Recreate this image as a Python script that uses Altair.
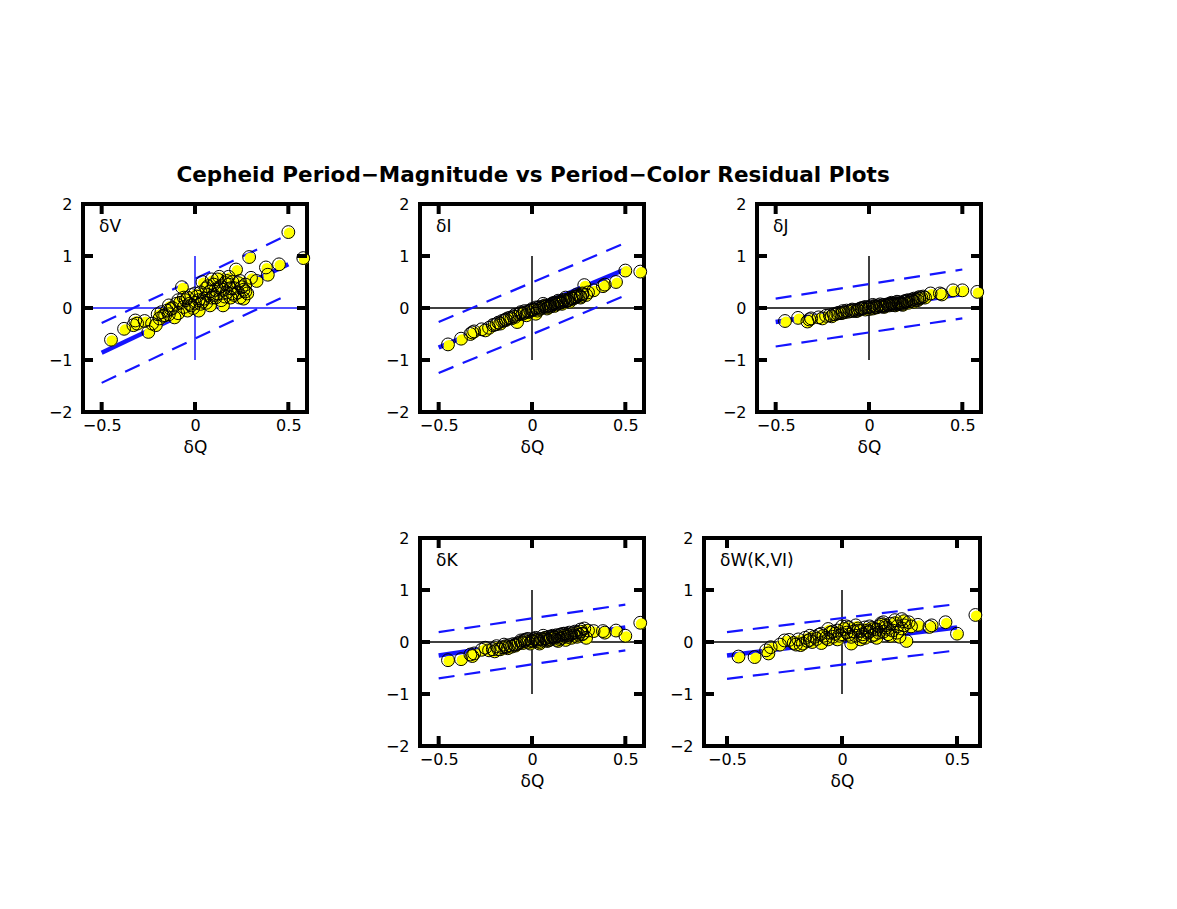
import altair as alt
import pandas as pd

# ---------------- data ----------------
dQ = [-0.45, -0.38, -0.33, -0.32, -0.31, -0.25, -0.23, -0.21, -0.19, -0.18,
      -0.17, -0.16, -0.15, -0.14, -0.13, -0.12, -0.11, -0.10, -0.09, -0.08,
      -0.07, -0.06, -0.05, -0.04, -0.03, -0.02, -0.01, 0.00, 0.01, 0.02,
      0.03, 0.04, 0.05, 0.06, 0.07, 0.08, 0.09, 0.10, 0.11, 0.12,
      0.13, 0.14, 0.15, 0.16, 0.17, 0.18, 0.19, 0.20, 0.21, 0.22,
      0.23, 0.24, 0.25, 0.26, 0.27, 0.28, 0.29, 0.30, 0.33, 0.38,
      0.39, 0.45, 0.50, 0.58, -0.20, -0.06, 0.04, 0.08, 0.12, 0.15,
      0.18, 0.20, 0.24, 0.26, 0.10, -0.02, 0.06, 0.14, 0.02,
      -0.14, -0.09, -0.04, 0.00, 0.03, 0.07, 0.09, 0.11, 0.13, 0.16,
      0.17, 0.19, 0.21, 0.23, 0.27, -0.27]

dV = [-0.61, -0.40, -0.33, -0.24, -0.30, -0.46, -0.30, -0.33, -0.20, -0.08,
      -0.15, -0.14, -0.05, 0.05, -0.02, 0.00, -0.18, 0.08, -0.10, 0.10,
      0.40, 0.02, 0.15, -0.05, 0.08, 0.25, 0.00, 0.10, 0.22, -0.05,
      0.30, 0.50, 0.18, 0.10, 0.25, 0.32, 0.20, 0.45, 0.35, 0.55,
      0.40, 0.15, 0.05, 0.48, 0.30, 0.45, 0.20, 0.50, 0.38, 0.74,
      0.30, 0.20, 0.40, 0.35, 0.32, 0.28, 0.98, 0.58, 0.52, 0.78,
      0.64, 0.84, 1.46, 0.96, -0.12, 0.20, 0.12, 0.05, 0.28, 0.35,
      0.60, 0.28, 0.52, 0.18, 0.25, 0.05, 0.38, 0.42, 0.15,
      -0.12, 0.15, 0.20, 0.28, 0.08, 0.42, 0.55, 0.20, 0.60, 0.22,
      0.52, 0.38, 0.25, 0.48, 0.45, -0.25]

dI = [-0.70, -0.59, -0.50, -0.47, -0.45, -0.43, -0.38, -0.33, -0.31, -0.28,
      -0.30, -0.25, -0.24, -0.22, -0.20, -0.19, -0.20, -0.16, -0.17, -0.27,
      -0.12, -0.10, -0.11, -0.09, -0.14, -0.06, -0.05, -0.04, -0.03, -0.11,
      0.00, 0.02, 0.00, 0.03, 0.02, -0.01, 0.05, 0.06, 0.08, 0.10,
      0.07, 0.09, 0.12, 0.08, 0.14, 0.13, 0.15, 0.16, 0.18, 0.18,
      0.20, 0.22, 0.24, 0.22, 0.28, 0.44, 0.25, 0.30, 0.34, 0.42,
      0.45, 0.50, 0.72, 0.70, -0.32, -0.08, -0.02, 0.04, 0.04, 0.10,
      0.20, 0.12, 0.26, 0.20, 0.03, -0.08, 0.08, 0.14, 0.01,
      -0.23, -0.13, -0.06, -0.02, -0.05, 0.05, 0.02, 0.09, 0.11, 0.11,
      0.16, 0.14, 0.20, 0.22, 0.26, -0.41]

dJ = [-0.25, -0.19, -0.26, -0.22, -0.20, -0.20, -0.15, -0.14, -0.12, -0.12,
      -0.10, -0.09, -0.10, -0.06, -0.08, -0.05, -0.07, -0.05, -0.03, -0.04,
      -0.06, -0.03, -0.02, 0.00, 0.00, 0.02, 0.01, -0.02, 0.03, -0.01,
      0.04, 0.02, 0.05, 0.03, 0.05, 0.06, 0.04, 0.07, 0.05, 0.08,
      0.06, 0.09, 0.07, 0.08, 0.10, 0.06, 0.11, 0.12, 0.10, 0.13,
      0.14, 0.18, 0.16, 0.19, 0.18, 0.20, 0.22, 0.20, 0.28, 0.28,
      0.26, 0.34, 0.34, 0.31, -0.16, -0.05, 0.01, 0.02, 0.10, 0.12,
      0.08, 0.14, 0.12, 0.15, 0.06, -0.03, 0.07, 0.05, 0.06,
      -0.09, -0.06, -0.01, 0.01, 0.02, 0.03, 0.05, 0.08, 0.09, 0.11,
      0.08, 0.13, 0.15, 0.16, 0.21, -0.18]

dK = [-0.35, -0.33, -0.24, -0.27, -0.22, -0.11, -0.16, -0.14, -0.08, -0.14,
      -0.14, -0.10, -0.05, -0.08, -0.12, -0.06, -0.09, -0.04, -0.07, -0.04,
      -0.02, 0.00, -0.02, 0.02, 0.05, 0.00, -0.03, 0.03, 0.06, 0.08,
      0.02, -0.03, 0.06, 0.04, 0.08, 0.05, 0.10, 0.06, 0.12, 0.08,
      0.04, 0.11, 0.14, 0.15, 0.12, 0.16, 0.10, 0.13, 0.08, 0.17,
      0.12, 0.18, 0.14, 0.20, 0.16, 0.26, 0.08, 0.22, 0.21, 0.21,
      0.18, 0.22, 0.12, 0.37, -0.18, 0.03, 0.00, 0.02, 0.10, 0.06,
      0.04, 0.18, 0.10, 0.24, 0.09, 0.06, 0.12, 0.02, 0.04,
      -0.10, -0.05, 0.04, 0.01, 0.05, 0.07, 0.03, 0.10, 0.13, 0.08,
      0.16, 0.14, 0.15, 0.20, 0.15, -0.15]

dW = [-0.28, -0.29, -0.16, -0.22, -0.10, 0.03, 0.04, -0.02, 0.05, -0.06,
      -0.03, 0.08, 0.02, 0.12, 0.00, 0.10, 0.06, 0.14, -0.02, 0.12,
      0.08, 0.05, 0.18, 0.10, 0.16, 0.22, 0.12, 0.15, 0.25, 0.18,
      0.28, -0.03, 0.20, 0.12, 0.22, 0.21, 0.15, 0.28, 0.18, 0.30,
      0.12, 0.25, 0.08, 0.30, 0.33, 0.20, 0.28, 0.15, 0.35, 0.22,
      0.42, 0.30, 0.10, 0.26, 0.40, 0.02, 0.38, 0.30, 0.33, 0.29,
      0.32, 0.38, 0.16, 0.52, -0.05, 0.25, 0.10, 0.05, 0.20, 0.24,
      0.38, 0.25, 0.18, 0.44, 0.08, 0.05, 0.32, 0.14, 0.30,
      0.04, 0.16, 0.20, 0.30, 0.14, 0.26, 0.10, 0.22, 0.27, 0.18,
      0.36, 0.32, 0.12, 0.36, 0.32, -0.05]

line_x = [-0.5, 0.5]
fit_V, up_V, lo_V = [-0.86, 0.84], [-0.29, 1.41], [-1.44, 0.26]
fit_I, up_I, lo_I = [-0.76, 0.745], [-0.27, 1.25], [-1.25, 0.24]
fit_J, up_J, lo_J = [-0.27, 0.27], [0.18, 0.74], [-0.74, -0.20]
fit_K, up_K, lo_K = [-0.26, 0.28], [0.19, 0.72], [-0.70, -0.16]
fit_W, up_W, lo_W = [-0.26, 0.28], [0.19, 0.73], [-0.71, -0.16]

x_ticks = [-0.5, 0, 0.5]
y_ticks = [-2, -1, 0, 1, 2]

TITLE = "Cepheid Period\u2212Magnitude vs Period\u2212Color Residual Plots"
FONT = "DejaVu Sans"
BLUE = "#1414ff"
YELLOW = "#ffff00"
H = 208


def X(field):
    return alt.X(f"{field}:Q",
                 scale=alt.Scale(domain=[-0.6, 0.6], nice=False, zero=False),
                 axis=alt.Axis(values=x_ticks, title="\u03b4Q",
                               labelExpr="datum.value == 0 ? '0' : format(datum.value, '.1f')",
                               labelPadding=5, titlePadding=6))


def Y(field):
    return alt.Y(f"{field}:Q",
                 scale=alt.Scale(domain=[-2, 2], nice=False, zero=False),
                 axis=alt.Axis(values=y_ticks, title=None, format="d", labelPadding=11))


def panel(label, resid, fit, up, lo, width, guide_color):
    pts = pd.DataFrame({"q": dQ, "r": resid})
    lines = pd.DataFrame({
        "q": line_x * 3,
        "r": fit + up + lo,
        "kind": ["fit", "fit", "up", "up", "lo", "lo"],
    })
    yt = pd.DataFrame({"v": y_ticks})
    xt = pd.DataFrame({"v": x_ticks})
    vline = pd.DataFrame({"q": [0], "r": [-1], "r2": [1]})
    hline = pd.DataFrame({"r": [0]})
    lab = pd.DataFrame({"t": [label]})

    h = alt.Chart(hline).mark_rule(color=guide_color, strokeWidth=1.5).encode(y=Y("r"))
    v = alt.Chart(vline).mark_rule(color=guide_color, strokeWidth=1.5).encode(
        x=X("q"), y=Y("r"), y2="r2:Q")
    dash = alt.Chart(lines).transform_filter("datum.kind != 'fit'").mark_line(
        color=BLUE, strokeWidth=2.2, strokeDash=[16, 10]).encode(
        x=X("q"), y=Y("r"), detail="kind:N")
    fitl = alt.Chart(lines).transform_filter("datum.kind == 'fit'").mark_line(
        color=BLUE, strokeWidth=4.5).encode(x=X("q"), y=Y("r"))
    dots = alt.Chart(pts).mark_circle(color=YELLOW, opacity=1, size=120,
                                      xOffset=1, yOffset=1).encode(x=X("q"), y=Y("r"))
    rings = alt.Chart(pts).mark_point(shape="circle", filled=False, color="black",
                                      strokeWidth=1.0, size=165, opacity=1).encode(
        x=X("q"), y=Y("r"))
    tl = alt.Chart(yt).mark_rule(color="black", strokeWidth=4).encode(
        y=Y("v"), x=alt.value(0), x2=alt.value(10))
    tr = alt.Chart(yt).mark_rule(color="black", strokeWidth=4).encode(
        y=Y("v"), x=alt.value(width - 10), x2=alt.value(width))
    tb = alt.Chart(xt).mark_rule(color="black", strokeWidth=4).encode(
        x=X("v"), y=alt.value(H - 10), y2=alt.value(H))
    tt = alt.Chart(xt).mark_rule(color="black", strokeWidth=4).encode(
        x=X("v"), y=alt.value(0), y2=alt.value(10))
    txt = alt.Chart(lab).mark_text(align="left", baseline="alphabetic", font=FONT,
                                   fontSize=17, color="black").encode(
        text="t:N", x=alt.value(16), y=alt.value(28))
    return alt.layer(h, v, dash, fitl, dots, rings, tl, tr, tb, tt, txt).properties(
        width=width, height=H)


p1 = panel("\u03b4V", dV, fit_V, up_V, lo_V, 224, BLUE)
p2 = panel("\u03b4I", dI, fit_I, up_I, lo_I, 224, "black")
p3 = panel("\u03b4J", dJ, fit_J, up_J, lo_J, 224, "black")
p4 = panel("\u03b4K", dK, fit_K, up_K, lo_K, 224, "black")
p5 = panel("\u03b4W(K,VI)", dW, fit_W, up_W, lo_W, 276, "black")

ph = alt.Chart(pd.DataFrame({"q": [0], "r": [0]})).mark_point(opacity=0).encode(
    x=alt.X("q:Q", axis=None), y=alt.Y("r:Q", axis=None)).properties(
    width=277, height=H, view=alt.ViewBackground(stroke="transparent"))

row1 = alt.hconcat(p1, p2, p3, spacing=113, bounds="flush")
row2 = alt.hconcat(ph, p4, p5, spacing=60, bounds="flush")

chart = alt.vconcat(row1, row2, spacing=71).properties(
    title=alt.TitleParams(TITLE, font=FONT, fontSize=21.5, fontWeight="bold",
                          color="black", anchor="middle", offset=8, dx=16),
    padding={"left": 38, "top": 156, "right": 5, "bottom": 5},
).configure_view(stroke="black", strokeWidth=4).configure_axis(
    domain=False, ticks=False, grid=False,
    labelFont=FONT, labelFontSize=16, labelColor="black",
    titleFont=FONT, titleFontSize=17, titleColor="black", titleFontWeight="normal",
)

chart.save("out.html", embed_options={"renderer": "svg", "actions": False})
